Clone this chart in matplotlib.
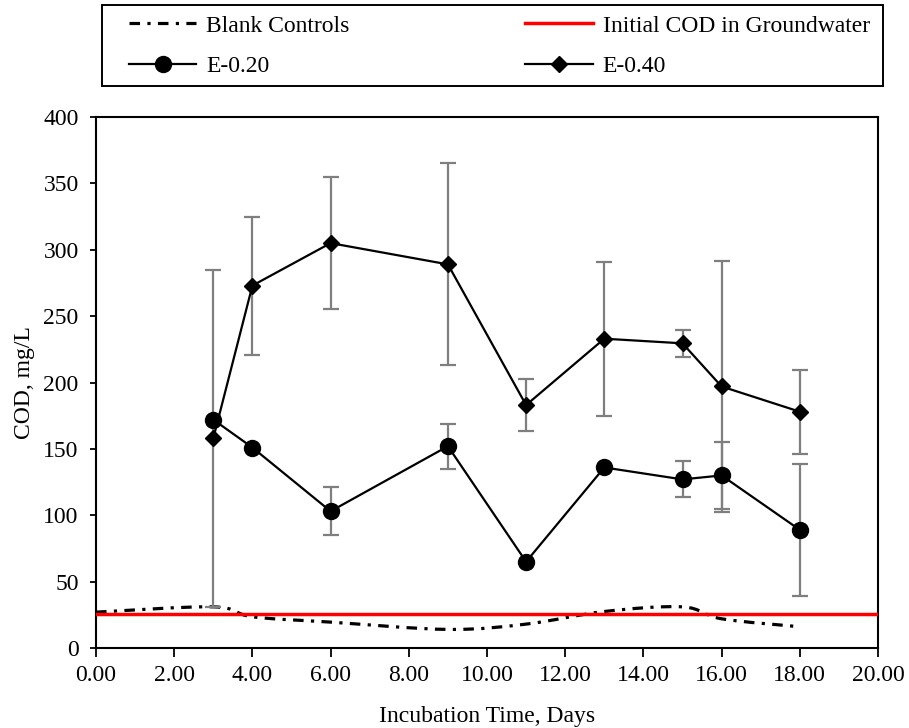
import numpy as np
import matplotlib
matplotlib.use("Agg")
import matplotlib.pyplot as plt
from matplotlib.path import Path
from matplotlib.patches import PathPatch, Rectangle
from matplotlib.lines import Line2D

plt.rcParams['font.family'] = ['Liberation Serif', 'DejaVu Serif']

# ---- data ----
blank_days = [0, 3, 4, 6, 9, 11, 13, 15, 16, 18]
blank_cod = [27, 31, 23.5, 19.5, 14, 18, 27.5, 31, 22, 16]

initial_cod = 25.5

days = [3, 4, 6, 9, 11, 13, 15, 16, 18]
e020 = [172, 151, 103, 152, 65, 136, 127, 130, 89]
e020_err = [0, 0, 18, 17, 0, 0, 13.5, 25, 49.5]
e040 = [158, 273, 305, 289, 183, 233, 229.5, 197, 178]
e040_err = [127, 52, 50, 76, 19.5, 58, 10, 94.5, 31.5]

xticks = [0, 2, 4, 6, 8, 10, 12, 14, 16, 18, 20]
yticks = [0, 50, 100, 150, 200, 250, 300, 350, 400]

W, H = 909, 728
fig = plt.figure(figsize=(W/100, H/100), dpi=100)
ax = fig.add_axes([96/W, 80/H, 782/W, 531/H])

FS = 17
DASHDOT = (0, (3.3, 2.3, 1.0, 2.3))

def smooth_path(xs, ys):
    P = np.column_stack([xs, ys]).astype(float)
    n = len(P)
    verts = [P[0]]
    codes = [Path.MOVETO]
    for i in range(n - 1):
        p0 = P[i - 1] if i > 0 else P[i]
        p1 = P[i]
        p2 = P[i + 1]
        p3 = P[i + 2] if i + 2 < n else P[i + 1]
        c1 = p1 + (p2 - p0) / 6.0
        c2 = p2 - (p3 - p1) / 6.0
        verts += [c1, c2, p2]
        codes += [Path.CURVE4] * 3
    return Path(verts, codes)

patch = PathPatch(smooth_path(blank_days, blank_cod), facecolor='none',
                  edgecolor='black', lw=2.3, linestyle=DASHDOT, zorder=3)
ax.add_patch(patch)

ax.axhline(initial_cod, color='#ff0000', lw=2.5, zorder=4)

ecol = '#7f7f7f'
ax.errorbar(days, e040, yerr=e040_err, fmt='none', ecolor=ecol, elinewidth=1.6,
            capsize=5.5, capthick=1.6, zorder=5)
e020_err_arr = np.array(e020_err, dtype=float)
mask = e020_err_arr > 0
ax.errorbar(np.array(days)[mask], np.array(e020)[mask], yerr=e020_err_arr[mask], fmt='none',
            ecolor=ecol, elinewidth=1.6, capsize=5.5, capthick=1.6, zorder=5)

ax.plot(days, e040, color='black', lw=1.6, marker='D', markersize=8.5, zorder=6)
ax.plot(days, e020, color='black', lw=1.6, marker='o', markersize=11.5, zorder=7)

ax.set_xlim(0, 20)
ax.set_ylim(0, 400)
ax.set_xticks(xticks)
ax.set_xticklabels([f"{v:.2f}" for v in xticks], fontsize=FS)
ax.set_yticks(yticks)
ax.set_yticklabels([str(v) for v in yticks], fontsize=FS)
ax.tick_params(axis='x', direction='out', length=6.5, width=1.3, pad=6)
ax.tick_params(axis='y', direction='out', length=4.5, width=1.3, pad=8)
for s in ax.spines.values():
    s.set_linewidth(1.5)
    s.set_color('black')

ax.set_xlabel("Incubation Time, Days", fontsize=FS, labelpad=14)
ax.set_ylabel("COD, mg/L", fontsize=FS, labelpad=6)

# legend frame
fig.patches.append(Rectangle((102/W, 1 - 86/H), (883 - 102)/W, (86 - 5)/H,
                             transform=fig.transFigure, facecolor='none',
                             edgecolor='black', lw=1.4, zorder=10))

h_blank = Line2D([], [], color='black', lw=2.3, linestyle=DASHDOT)
h_init = Line2D([], [], color='#ff0000', lw=2.5)
h_020 = Line2D([], [], color='black', lw=1.6, marker='o', markersize=11.5)
h_040 = Line2D([], [], color='black', lw=1.6, marker='D', markersize=8.5)
leg = fig.legend([h_blank, h_020, h_init, h_040],
                 ["Blank Controls", "E-0.20", "Initial COD in Groundwater", "E-0.40"],
                 ncol=2, loc='upper left', bbox_to_anchor=(129/W, 1 - 15/H),
                 fontsize=FS, frameon=False,
                 handlelength=2.85, handletextpad=0.42, columnspacing=7.45,
                 labelspacing=0.8, borderpad=0, borderaxespad=0)

fig.savefig("out.png", dpi=100)
